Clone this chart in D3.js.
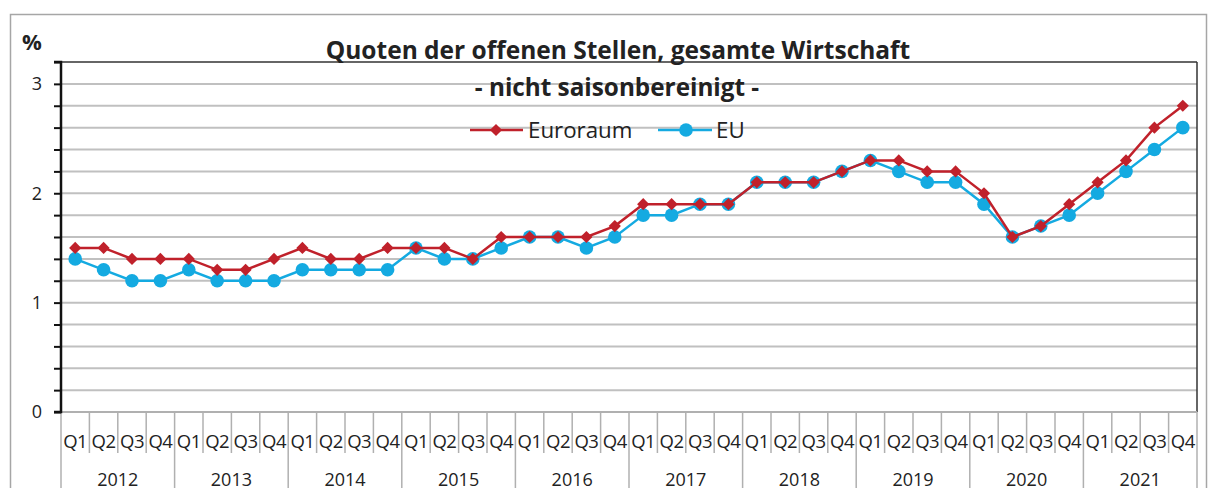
<!DOCTYPE html>
<html><head><meta charset="utf-8">
<script src="https://cdn.jsdelivr.net/npm/d3@7"></script>
<style>body{margin:0;background:#fff}svg{display:block}</style>
</head><body>
<svg id="c" width="1209" height="488"></svg>
<script>
const years = ["2012","2013","2014","2015","2016","2017","2018","2019","2020","2021"];
const quarters = ["Q1","Q2","Q3","Q4"];
const euroraum = [1.5,1.5,1.4,1.4, 1.4,1.3,1.3,1.4, 1.5,1.4,1.4,1.5, 1.5,1.5,1.4,1.6, 1.6,1.6,1.6,1.7, 1.9,1.9,1.9,1.9, 2.1,2.1,2.1,2.2, 2.3,2.3,2.2,2.2, 2.0,1.6,1.7,1.9, 2.1,2.3,2.6,2.8];
const eu = [1.4,1.3,1.2,1.2, 1.3,1.2,1.2,1.2, 1.3,1.3,1.3,1.3, 1.5,1.4,1.4,1.5, 1.6,1.6,1.5,1.6, 1.8,1.8,1.9,1.9, 2.1,2.1,2.1,2.2, 2.3,2.2,2.1,2.1, 1.9,1.6,1.7,1.8, 2.0,2.2,2.4,2.6];
const yTickLabels = [0,1,2,3];
const titleText = "Quoten der offenen Stellen, gesamte Wirtschaft";
const subtitleText = "- nicht saisonbereinigt -";
const seriesNames = ["Euroraum","EU"];

const cats = [];
years.forEach(y => quarters.forEach(q => cats.push(y + "-" + q)));

const svg = d3.select("#c");
const font = "'Open Sans', sans-serif";
const L = 61, R = 1197, T = 62, B = 412;
const red = "#c0212b", blue = "#14aae1", grid = "#c0c0c0";

svg.append("rect").attr("x",10.5).attr("y",14.5).attr("width",1196).attr("height",500)
  .attr("fill","none").attr("stroke","#a6a6a6").attr("stroke-width",1.5);

const x = d3.scaleBand().domain(cats).range([L,R]).padding(0);
const y = d3.scaleLinear().domain([0,3.2]).range([B,T]);

// gridlines
const minor = d3.range(1,17).map(i => +(i*0.2).toFixed(1));
svg.append("g").selectAll("line").data(minor.filter(v=>v<3.2)).join("line")
  .attr("x1",L).attr("x2",R).attr("y1",d=>y(d)).attr("y2",d=>y(d))
  .attr("stroke",grid).attr("stroke-width",2);

// plot border top/right
svg.append("line").attr("x1",L).attr("x2",R).attr("y1",T).attr("y2",T).attr("stroke","#333").attr("stroke-width",1.5);
svg.append("line").attr("x1",R).attr("x2",R).attr("y1",T).attr("y2",B).attr("stroke","#333").attr("stroke-width",1.5);

// x axis line
svg.append("line").attr("x1",L).attr("x2",R).attr("y1",B).attr("y2",B).attr("stroke","#b0b0b0").attr("stroke-width",2);

// category dividers
const qDiv = cats.map((c,i)=>i).filter(i=>i%4!==0);
svg.append("g").selectAll("line").data(qDiv).join("line")
  .attr("x1",i=>x(cats[i])).attr("x2",i=>x(cats[i])).attr("y1",B).attr("y2",453)
  .attr("stroke","#b0b0b0").attr("stroke-width",1.5);
const yDiv = d3.range(0,years.length+1);
svg.append("g").selectAll("line").data(yDiv).join("line")
  .attr("x1",i=> i<years.length ? x(cats[i*4]) : R).attr("x2",i=> i<years.length ? x(cats[i*4]) : R)
  .attr("y1",B).attr("y2",488)
  .attr("stroke","#b0b0b0").attr("stroke-width",1.5);

// quarter labels
svg.append("g").selectAll("text").data(cats).join("text")
  .attr("x",d=>x(d)+x.bandwidth()/2).attr("y",448)
  .attr("text-anchor","middle").attr("font-family",font).attr("font-size",18.5).attr("fill","#222")
  .attr("letter-spacing",-0.5)
  .text(d=>d.split("-")[1]);
// year labels
svg.append("g").selectAll("text").data(years).join("text")
  .attr("x",(d,i)=>x(cats[i*4]) + 2*x.bandwidth()).attr("y",486)
  .attr("text-anchor","middle").attr("font-family",font).attr("font-size",18).attr("fill","#222")
  .text(d=>d);

// y axis
const yAxis = d3.axisLeft(y).tickValues(d3.range(0,17).map(i=>+(i*0.2).toFixed(1))).tickSize(7).tickFormat(d => yTickLabels.includes(d) ? d : "");
const ga = svg.append("g").attr("transform",`translate(${L},0)`).call(yAxis);
ga.select(".domain").attr("stroke","#111").attr("stroke-width",2.5).attr("d",`M-7,${T}H0V${B}H-7`);
ga.selectAll(".tick line").attr("stroke","#111").attr("stroke-width",2);
ga.selectAll(".tick text").attr("font-family",font).attr("font-size",18).attr("fill","#222").attr("x",-19);

svg.append("text").attr("x",22).attr("y",50).attr("font-family",font).attr("font-weight","bold").attr("font-size",22).attr("fill","#222").text("%");

// lines
const cx = i => x(cats[i]) + x.bandwidth()/2;
const line = d3.line().x((d,i)=>cx(i)).y(d=>y(d));
svg.append("path").datum(eu).attr("d",line).attr("fill","none").attr("stroke",blue).attr("stroke-width",2.5);
svg.append("g").selectAll("circle").data(eu).join("circle")
  .attr("cx",(d,i)=>cx(i)).attr("cy",d=>y(d)).attr("r",6.8).attr("fill",blue);
svg.append("path").datum(euroraum).attr("d",line).attr("fill","none").attr("stroke",red).attr("stroke-width",2.5);
const diamond = d3.symbol().type(d3.symbolDiamond2).size(95);
svg.append("g").selectAll("path").data(euroraum).join("path")
  .attr("transform",(d,i)=>`translate(${cx(i)},${y(d)})`).attr("d",diamond).attr("fill",red);

// title
svg.append("text").attr("x",618).attr("y",59).attr("text-anchor","middle").attr("font-family",font).attr("font-weight","bold").attr("font-size",24.5).attr("fill","#222").text(titleText);
svg.append("text").attr("x",617).attr("y",96).attr("text-anchor","middle").attr("font-family",font).attr("font-weight","bold").attr("font-size",24.3).attr("fill","#222").text(subtitleText);

// legend
const lg = svg.append("g");
lg.append("line").attr("x1",470).attr("x2",523).attr("y1",130).attr("y2",130).attr("stroke",red).attr("stroke-width",2.5);
lg.append("path").attr("transform","translate(496,130)").attr("d",diamond).attr("fill",red);
lg.append("text").attr("x",528).attr("y",138).attr("font-family",font).attr("font-size",22.3).attr("fill","#222").text(seriesNames[0]);
lg.append("line").attr("x1",658).attr("x2",712).attr("y1",130).attr("y2",130).attr("stroke",blue).attr("stroke-width",2.5);
lg.append("circle").attr("cx",686).attr("cy",130).attr("r",6.8).attr("fill",blue);
lg.append("text").attr("x",716).attr("y",138).attr("font-family",font).attr("font-size",22.3).attr("fill","#222").text(seriesNames[1]);
</script>
</body></html>
